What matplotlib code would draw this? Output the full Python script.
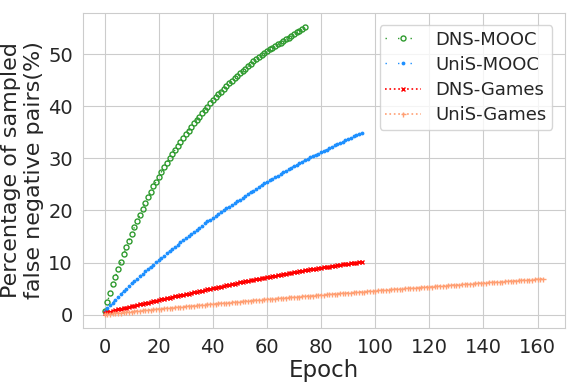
import numpy as np
import matplotlib
matplotlib.use("Agg")
import matplotlib.pyplot as plt
import seaborn as sns

dns_mooc = [0.7, 2.4, 4.1, 5.8, 7.3, 8.8, 10.2, 11.6, 12.9, 14.2,
            15.5, 16.8, 18.0, 19.1, 20.3, 21.4, 22.5, 23.5, 24.6, 25.5,
            26.5, 27.4, 28.3, 29.2, 30.0, 30.8, 31.6, 32.4, 33.1, 33.9,
            34.6, 35.3, 36.0, 36.7, 37.4, 38.0, 38.7, 39.3, 39.9, 40.6,
            41.2, 41.7, 42.3, 42.8, 43.4, 43.9, 44.4, 44.9, 45.4, 45.8,
            46.3, 46.8, 47.2, 47.7, 48.1, 48.6, 49.0, 49.4, 49.8, 50.2,
            50.6, 50.9, 51.2, 51.6, 51.9, 52.2, 52.5, 52.9, 53.2, 53.5,
            53.8, 54.2, 54.5, 54.9, 55.3]

unis_mooc = [0.7, 1.2, 1.8, 2.3, 2.9, 3.4,
             3.9, 4.5, 5.0, 5.5, 6.0,
             6.5, 6.9, 7.4, 7.8, 8.3,
             8.7, 9.2, 9.6, 10.1, 10.5,
             10.9, 11.3, 11.8, 12.2, 12.6,
             13.0, 13.4, 13.9, 14.3, 14.7,
             15.1, 15.5, 15.9, 16.3, 16.7,
             17.1, 17.5, 17.9, 18.2, 18.6,
             19.0, 19.3, 19.7, 20.0, 20.4,
             20.7, 21.1, 21.4, 21.8, 22.1,
             22.4, 22.8, 23.1, 23.5, 23.8,
             24.1, 24.5, 24.8, 25.2, 25.5,
             25.8, 26.1, 26.4, 26.7, 27.0,
             27.3, 27.6, 27.9, 28.2, 28.5,
             28.8, 29.1, 29.3, 29.6, 29.9,
             30.2, 30.4, 30.7, 30.9, 31.2,
             31.5, 31.7, 32.0, 32.2, 32.5,
             32.7, 33.0, 33.2, 33.5, 33.7,
             33.9, 34.2, 34.4, 34.7, 34.9]

dns_games = [0.3, 0.44, 0.58, 0.72, 0.86, 1.0,
             1.12, 1.24, 1.36, 1.48, 1.6,
             1.72, 1.84, 1.96, 2.08, 2.2,
             2.32, 2.44, 2.56, 2.68, 2.8,
             2.92, 3.04, 3.16, 3.28, 3.4,
             3.5, 3.6, 3.7, 3.8, 3.9,
             4.02, 4.14, 4.26, 4.38, 4.5,
             4.62, 4.74, 4.86, 4.98, 5.1,
             5.2, 5.3, 5.4, 5.5, 5.6,
             5.72, 5.84, 5.96, 6.08, 6.2,
             6.3, 6.4, 6.5, 6.6, 6.7,
             6.8, 6.9, 7.0, 7.1, 7.2,
             7.3, 7.4, 7.5, 7.6, 7.7,
             7.78, 7.86, 7.94, 8.02, 8.1,
             8.2, 8.3, 8.4, 8.5, 8.6,
             8.68, 8.76, 8.84, 8.92, 9.0,
             9.08, 9.16, 9.24, 9.32, 9.4,
             9.48, 9.56, 9.64, 9.72, 9.8,
             9.86, 9.92, 9.98, 10.04, 10.1]

unis_games = [0.10, 0.15, 0.20, 0.25, 0.30, 0.35, 0.40, 0.45, 0.50, 0.55, 0.60,
              0.65, 0.70, 0.75, 0.80, 0.85, 0.90, 0.95, 1.00, 1.05, 1.10,
              1.15, 1.20, 1.24, 1.29, 1.34, 1.39, 1.44, 1.48, 1.53, 1.58,
              1.63, 1.67, 1.72, 1.77, 1.81, 1.86, 1.91, 1.96, 2.00, 2.05,
              2.10, 2.14, 2.19, 2.23, 2.28, 2.32, 2.37, 2.41, 2.46, 2.50,
              2.55, 2.59, 2.64, 2.68, 2.73, 2.77, 2.82, 2.86, 2.91, 2.95,
              2.99, 3.04, 3.08, 3.12, 3.17, 3.21, 3.25, 3.29, 3.34, 3.38,
              3.42, 3.46, 3.50, 3.55, 3.59, 3.63, 3.67, 3.71, 3.76, 3.80,
              3.84, 3.88, 3.92, 3.96, 4.00, 4.04, 4.08, 4.12, 4.16, 4.20,
              4.24, 4.28, 4.32, 4.36, 4.40, 4.44, 4.48, 4.52, 4.56, 4.60,
              4.64, 4.68, 4.71, 4.75, 4.79, 4.83, 4.87, 4.90, 4.94, 4.98,
              5.02, 5.05, 5.09, 5.13, 5.17, 5.20, 5.24, 5.28, 5.31, 5.35,
              5.39, 5.42, 5.46, 5.50, 5.54, 5.57, 5.61, 5.65, 5.68, 5.72,
              5.76, 5.80, 5.83, 5.87, 5.91, 5.95, 5.99, 6.02, 6.06, 6.10,
              6.14, 6.17, 6.21, 6.24, 6.28, 6.31, 6.35, 6.38, 6.42, 6.45,
              6.49, 6.52, 6.56, 6.59, 6.63, 6.66, 6.70, 6.73, 6.77, 6.80,
              6.83, 6.85]

labels = ["DNS-MOOC", "UniS-MOOC", "DNS-Games", "UniS-Games"]
xticks = [0, 20, 40, 60, 80, 100, 120, 140, 160]
yticks = [0, 10, 20, 30, 40, 50]

sns.set_style("whitegrid")
plt.rcParams['font.family'] = ['DejaVu Sans']

fig = plt.figure(figsize=(5.68, 3.91), dpi=100)
ax = fig.add_axes([0.1456, 0.160, 0.849, 0.808])

ax.plot(np.arange(len(dns_mooc)), dns_mooc, color="#2e9a2e", marker="o",
        markersize=3.6, markerfacecolor="none", markeredgewidth=1.0,
        linestyle=(0, (1, 8)), linewidth=1.0, label=labels[0])
ax.plot(np.arange(len(unis_mooc)), unis_mooc, color="#1e90ff", marker=".",
        markersize=3.5, linestyle=(0, (1, 8)), linewidth=1.0, label=labels[1])
ax.plot(np.arange(len(dns_games)), dns_games, color="red", marker="x",
        markersize=3.4, markeredgewidth=1.0, linestyle=":", linewidth=1.2,
        label=labels[2])
ax.plot(np.arange(len(unis_games)), unis_games, color="#ff9f73", marker="+",
        markersize=3.6, markeredgewidth=1.0, linestyle=":", linewidth=1.2,
        label=labels[3])

ax.set_xticks(xticks)
ax.set_yticks(yticks)
ax.tick_params(labelsize=14, colors="#262626")
ax.set_xlabel("Epoch", fontsize=16.5, color="#262626", labelpad=1)
ax.set_ylabel("Percentage of sampled\nfalse negative pairs(%)", fontsize=16,
              color="#262626", labelpad=3)
ax.set_xlim(-8.1, 170.1)
ax.set_ylim(-2.65, 58.0)

ax.legend(loc="upper right", fontsize=13, frameon=True, handlelength=2.0,
          borderpad=0.3, labelspacing=0.4, borderaxespad=0.7)

fig.savefig("out.png", dpi=100)
